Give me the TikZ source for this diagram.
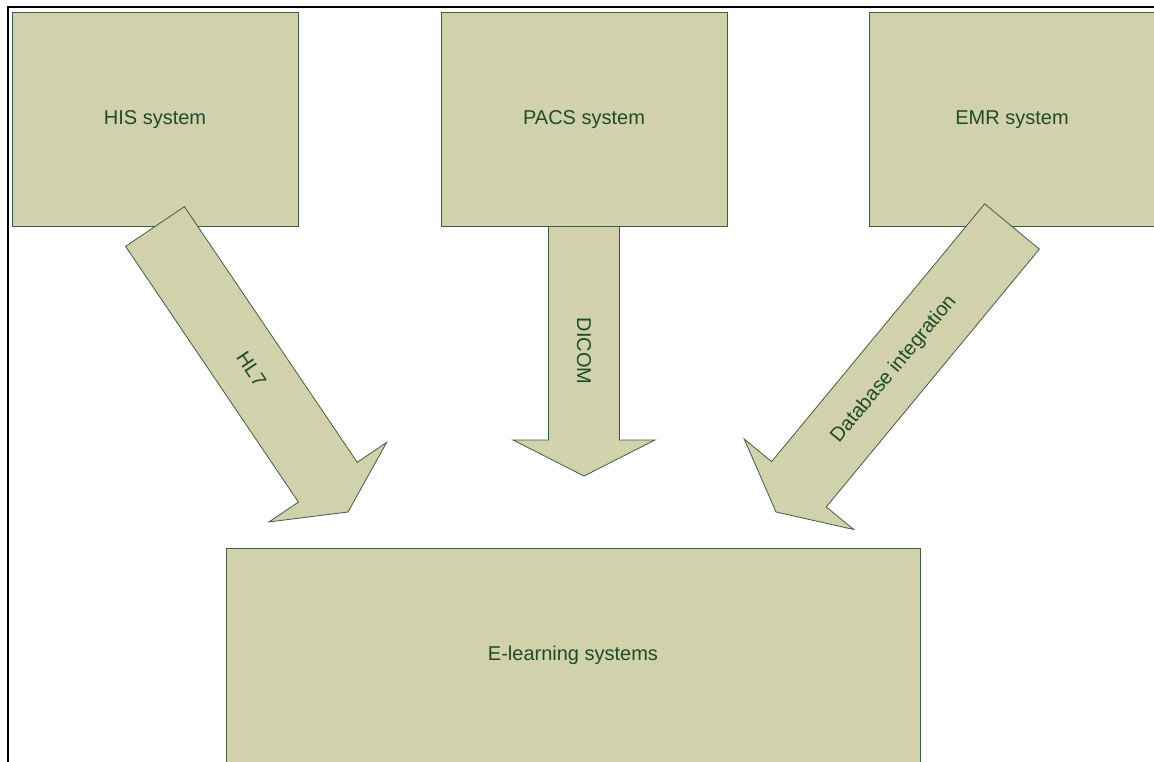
\documentclass[tikz,border=0pt]{standalone}
\usepackage{fontspec}
\setmainfont{Liberation Sans}
\usetikzlibrary{calc}
\definecolor{boxfill}{RGB}{209,210,171}
\definecolor{boxline}{RGB}{60,95,65}
\definecolor{txt}{RGB}{30,75,40}
\newcommand\blockarr[2]{%
  \coordinate (#1-neck) at ($(#2)!36pt!(#1)$);
  \draw[blockarrow]
    ($(#1)!35.5pt!90:(#2)$) -- ($(#1-neck)!35.5pt!90:(#2)$) --
    ($(#1-neck)!71pt!90:(#2)$) -- (#2) --
    ($(#1-neck)!71pt!-90:(#2)$) -- ($(#1-neck)!35.5pt!-90:(#2)$) --
    ($(#1)!35.5pt!-90:(#2)$) -- cycle;}
\begin{document}
\begin{tikzpicture}[x=1pt,y=-1pt,
  sysbox/.style={draw=boxline,fill=boxfill,line width=0.8pt,minimum width=286pt,
    minimum height=214pt,inner sep=0pt,outer sep=0pt,text=txt,
    font=\fontsize{20}{24}\selectfont},
  blockarrow/.style={draw=boxline,fill=boxfill,line width=0.8pt,line join=miter},
  arrlabel/.style={text=txt,font=\fontsize{20}{24}\selectfont,inner sep=0pt}]
\useasboundingbox (0,0) rectangle (1154,762);
\draw[line width=2pt] (7.5,790) -- (7.5,7.5) -- (1180,7.5);
\node[sysbox] (his) at (155,119.5) {HIS system};
\node[sysbox] (pacs) at (584,119.5) {PACS system};
\node[sysbox] (emr) at (1012,119.5) {EMR system};
\node[sysbox,minimum width=694pt,minimum height=215pt] (elearn) at (573,655.5) {E-learning systems};
\coordinate (hisT) at (his.south);
\coordinate (hisTip) at (348,512);
\coordinate (pacsT) at (pacs.south);
\coordinate (pacsTip) at (584,476);
\coordinate (emrT) at (emr.south);
\coordinate (emrTip) at (776,512);
\blockarr{hisT}{hisTip}
\blockarr{pacsT}{pacsTip}
\blockarr{emrT}{emrTip}
\node[arrlabel,rotate=-56.1] (hl7) at ($(hisT)!0.5!(hisTip)$) {HL7};
\node[arrlabel,rotate=-90] (dicom) at ($(pacsT)!0.5!(pacsTip)$) {DICOM};
\node[arrlabel,rotate=50.4] (dbint) at ($(emrT)!0.5!(emrTip)$) {Database integration};
\end{tikzpicture}
\end{document}
